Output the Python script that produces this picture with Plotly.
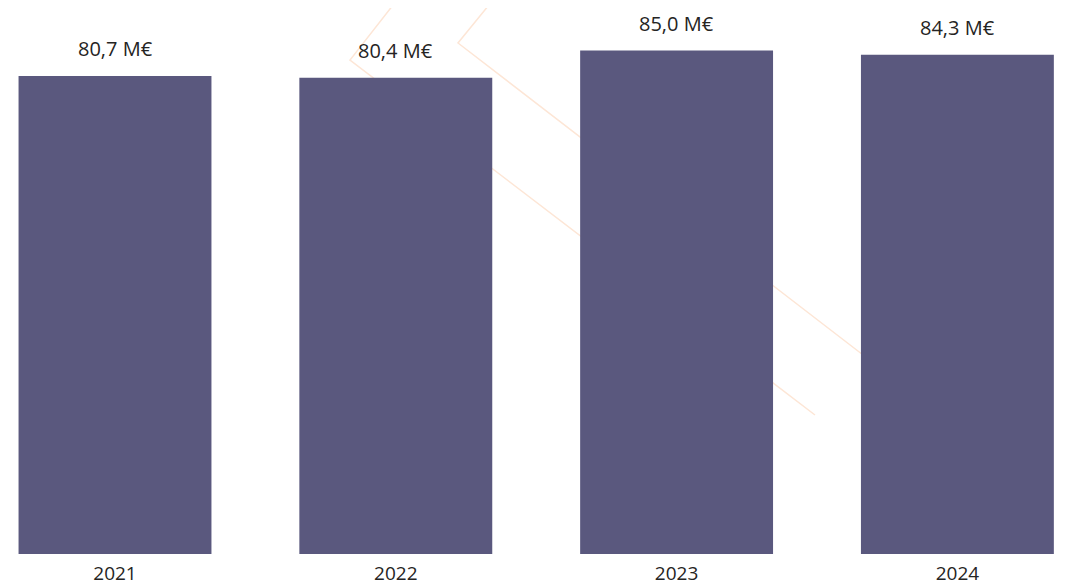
import plotly.graph_objects as go

# data
years = ["2021", "2022", "2023", "2024"]
revenue_meur = [80.7, 80.4, 85.0, 84.3]

bar_color = "#5A587E"
text_color = "#252423"
font_family = "Open Sans, Segoe UI, sans-serif"

W, H = 1082, 588
OFF = 8  # page body margin pushes the figure 8px right/down
m_left, m_right, m_top, m_bot = 0, 0, 20, 42

fig = go.Figure()
fig.add_trace(go.Bar(
    x=years,
    y=revenue_meur,
    marker=dict(color=bar_color, line=dict(width=0)),
    hoverinfo="skip",
))

# value labels above each bar
for i, v in enumerate(revenue_meur):
    fig.add_annotation(
        x=i, y=v, text=f"{v:.1f}".replace(".", ",") + " M€",
        showarrow=False, yanchor="bottom", yshift=12,
        font=dict(family=font_family, size=20, color=text_color),
    )

# faint watermark chevrons in the background (screen px -> paper coords)
plot_h = H - m_top - m_bot
def px(x, y):
    return (x - OFF) / W, (H - m_bot - (y - OFF)) / plot_h

chevrons = [
    [(397, 0), (350, 60), (815, 415)],
    [(493, 0), (458, 43), (880, 368)],
]
for pts in chevrons:
    path = ""
    for i, (x, y) in enumerate(pts):
        xp, yp = px(x, y)
        path += ("M" if i == 0 else "L") + f"{xp},{yp} "
    fig.add_shape(type="path", path=path.strip(), xref="paper", yref="paper",
                  line=dict(color="#FDE6D6", width=1.5), layer="below")

unit = 280.8
x0 = -(115 - OFF) / unit
fig.update_layout(
    width=W, height=H,
    margin=dict(l=m_left, r=m_right, t=m_top, b=m_bot),
    paper_bgcolor="white", plot_bgcolor="rgba(0,0,0,0)",
    bargap=0.313,
    showlegend=False,
    font=dict(family=font_family, size=20, color=text_color),
)
fig.update_xaxes(
    type="category", range=[x0, x0 + W / unit],
    showgrid=False, zeroline=False, showline=False, ticks="",
    ticklabelstandoff=6,
    tickfont=dict(family=font_family, size=19, color=text_color),
)
fig.update_yaxes(
    range=[0, plot_h / 5.923], visible=False, showgrid=False, zeroline=False,
)

fig.write_html("out.html")
